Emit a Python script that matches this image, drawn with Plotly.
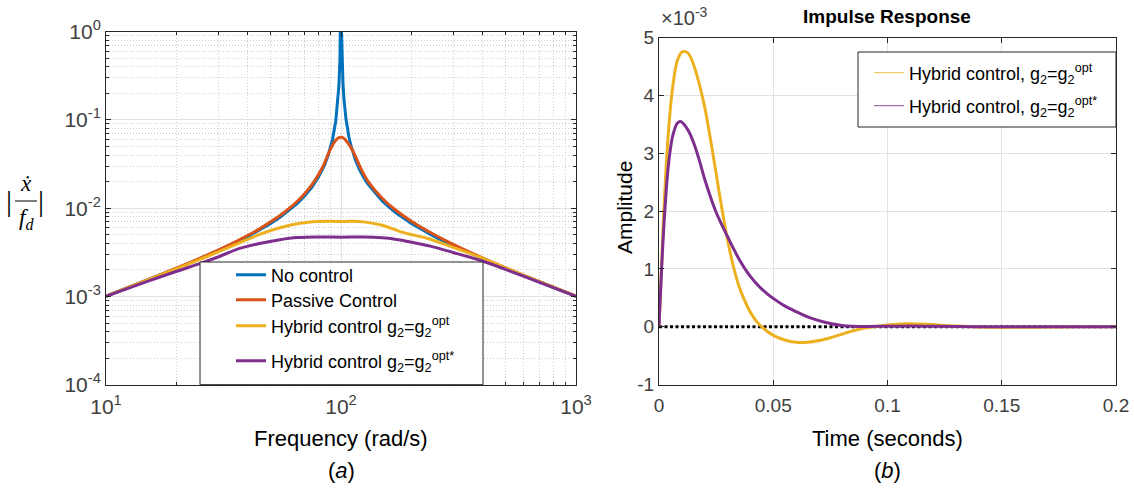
import plotly.graph_objects as go

W, H = 1134, 491

# ---------------- (a) frequency response |x_dot / f_d| ----------------
freq_none = [10, 15, 20, 25, 30, 35, 40, 45, 50, 55, 60, 65, 70, 75, 80, 85, 88, 90, 92, 95,
             97, 98, 99, 99.5, 100, 100.5, 101, 102, 103, 105, 108, 110, 115, 120, 125, 130,
             150, 170, 200, 250, 300, 400, 500, 700, 1000]
mag_none = [1.010e-3, 1.535e-3, 2.083e-3, 2.667e-3, 3.297e-3, 3.989e-3, 4.762e-3, 5.643e-3,
            6.667e-3, 7.885e-3, 9.375e-3, 1.126e-2, 1.373e-2, 1.714e-2, 2.222e-2, 3.063e-2,
            3.901e-2, 4.737e-2, 5.990e-2, 9.744e-2, 0.1641, 0.2475, 0.4975, 0.998, 5.0, 1.002,
            0.5025, 0.2525, 0.1691, 0.1024, 0.0649, 0.05238, 0.03566, 0.02727, 0.02222,
            0.01884, 0.0120, 8.995e-3, 6.667e-3, 4.762e-3, 3.750e-3, 2.667e-3, 2.083e-3,
            1.458e-3, 1.010e-3]

freq_passive = [10, 15, 20, 25, 30, 35, 40, 45, 50, 55, 60, 65, 70, 75, 80, 85, 88, 90, 92, 94,
                96, 98, 100, 102, 104, 106, 108, 110, 113, 116, 120, 125, 130, 150, 170, 200,
                250, 300, 400, 500, 700, 1000]
mag_passive = [1.010e-3, 1.54e-3, 2.10e-3, 2.70e-3, 3.36e-3, 4.08e-3, 4.90e-3, 5.83e-3, 6.96e-3,
               8.27e-3, 9.89e-3, 1.192e-2, 1.462e-2, 1.83e-2, 2.37e-2, 3.22e-2, 4.05e-2, 4.62e-2,
               5.18e-2, 5.70e-2, 6.08e-2, 6.32e-2, 6.37e-2, 6.28e-2, 6.02e-2, 5.66e-2, 5.30e-2,
               4.92e-2, 4.32e-2, 3.72e-2, 3.02e-2, 2.42e-2, 2.03e-2, 1.29e-2, 9.6e-3, 7.08e-3,
               5.0e-3, 3.90e-3, 2.74e-3, 2.12e-3, 1.47e-3, 1.010e-3]

freq_opt = [10, 15, 20, 25, 30, 37, 45, 55, 67, 80, 90, 100, 110, 125, 150, 180, 240, 300,
            400, 500, 700, 1000]
mag_opt = [1.0e-3, 1.53e-3, 2.07e-3, 2.62e-3, 3.2e-3, 4.05e-3, 5.05e-3, 6.0e-3, 6.75e-3,
           7.08e-3, 7.12e-3, 7.06e-3, 7.12e-3, 7.0e-3, 6.4e-3, 5.4e-3, 4.45e-3, 3.6e-3,
           2.72e-3, 2.11e-3, 1.46e-3, 1.01e-3]

freq_optstar = [10, 15, 20, 25, 30, 37, 45, 55, 65, 80, 100, 125, 150, 170, 200, 240, 300,
                400, 500, 700, 1000]
mag_optstar = [1.0e-3, 1.48e-3, 1.93e-3, 2.35e-3, 2.8e-3, 3.5e-3, 3.98e-3, 4.4e-3, 4.65e-3,
               4.72e-3, 4.70e-3, 4.72e-3, 4.62e-3, 4.45e-3, 4.12e-3, 3.72e-3, 3.15e-3,
               2.52e-3, 2.03e-3, 1.44e-3, 1.0e-3]

# ---------------- (b) impulse response (amplitude in units of 1e-3) ----------------
t_opt = [0, 0.002, 0.004, 0.006, 0.008, 0.010, 0.0114, 0.013, 0.015, 0.0175, 0.020, 0.0225,
         0.025, 0.0275, 0.030, 0.0325, 0.035, 0.0375, 0.040, 0.0425, 0.045, 0.050, 0.055,
         0.060, 0.065, 0.070, 0.075, 0.080, 0.085, 0.090, 0.094, 0.100, 0.108, 0.115, 0.122,
         0.130, 0.140, 0.150, 0.160, 0.170, 0.180, 0.200]
amp_opt = [0, 1.9, 3.3, 4.15, 4.6, 4.75, 4.76, 4.72, 4.55, 4.22, 3.8, 3.25, 2.65, 2.05, 1.5,
           1.05, 0.7, 0.45, 0.25, 0.1, -0.005, -0.15, -0.23, -0.27, -0.27, -0.24, -0.19,
           -0.13, -0.07, -0.025, 0.0, 0.03, 0.05, 0.045, 0.03, 0.01, -0.005, -0.012, -0.01,
           -0.006, -0.003, 0.0]

t_optstar = [0, 0.002, 0.004, 0.006, 0.008, 0.0095, 0.011, 0.013, 0.015, 0.0175, 0.020,
             0.0225, 0.025, 0.0275, 0.030, 0.0325, 0.035, 0.0375, 0.040, 0.0425, 0.045,
             0.0475, 0.050, 0.055, 0.060, 0.065, 0.070, 0.075, 0.080, 0.085, 0.090, 0.100,
             0.110, 0.120, 0.140, 0.160, 0.200]
amp_optstar = [0, 1.65, 2.75, 3.3, 3.52, 3.55, 3.5, 3.38, 3.2, 2.9, 2.55, 2.25, 1.98, 1.76,
               1.56, 1.36, 1.17, 1.01, 0.87, 0.75, 0.65, 0.565, 0.49, 0.36, 0.26, 0.17, 0.105,
               0.055, 0.022, 0.008, 0.003, 0.008, 0.01, 0.006, 0.0, -0.002, 0.0]

t_zero = [0, 0.2]
amp_zero = [0, 0]

# tick labels
freq_ticks = [10, 100, 1000]
freq_ticktext = ["10<sup>1</sup>", "10<sup>2</sup>", "10<sup>3</sup>"]
mag_ticks = [1e-4, 1e-3, 1e-2, 1e-1, 1]
mag_ticktext = ["10<sup>-4</sup>", "10<sup>-3</sup>", "10<sup>-2</sup>", "10<sup>-1</sup>", "10<sup>0</sup>"]
time_ticks = [0, 0.05, 0.1, 0.15, 0.2]
time_ticktext = ["0", "0.05", "0.1", "0.15", "0.2"]
amp_ticks = [-1, 0, 1, 2, 3, 4, 5]
amp_ticktext = ["-1", "0", "1", "2", "3", "4", "5"]

BLUE, ORANGE, YELLOW, PURPLE = "#0072BD", "#D95319", "#EDB120", "#7E2F8E"
AXC = "#262626"
TICKC = "#404040"
FONT = "Liberation Sans"
SERIF = "Liberation Serif"

G2_OPT = "g<sub>2</sub>=g<sub>2</sub><sup>opt</sup>"
G2_OPTS = "g<sub>2</sub>=g<sub>2</sub><sup>opt*</sup>"


def px(x):
    return x / W


def py(y):
    return 1 - y / H


fig = go.Figure()

# (a) each legend entry sits in its own legend box so rows can be placed freely
fig.add_trace(go.Scatter(x=freq_none, y=mag_none, mode="lines", name="No control",
                         line=dict(color=BLUE, width=3), xaxis="x", yaxis="y", legend="legend"))
fig.add_trace(go.Scatter(x=freq_passive, y=mag_passive, mode="lines", name="Passive Control",
                         line=dict(color=ORANGE, width=3, shape="spline", smoothing=0.6),
                         xaxis="x", yaxis="y", legend="legend2"))
fig.add_trace(go.Scatter(x=freq_opt, y=mag_opt, mode="lines", name="Hybrid control " + G2_OPT,
                         line=dict(color=YELLOW, width=3, shape="spline", smoothing=0.8),
                         xaxis="x", yaxis="y", legend="legend3"))
fig.add_trace(go.Scatter(x=freq_optstar, y=mag_optstar, mode="lines",
                         name="Hybrid control " + G2_OPTS,
                         line=dict(color=PURPLE, width=3, shape="spline", smoothing=0.8),
                         xaxis="x", yaxis="y", legend="legend4"))

# (b)
fig.add_trace(go.Scatter(x=t_zero, y=amp_zero, mode="lines", showlegend=False,
                         line=dict(color="black", width=3, dash="3px,2.5px"),
                         xaxis="x2", yaxis="y2"))
fig.add_trace(go.Scatter(x=t_opt, y=amp_opt, mode="lines", showlegend=False,
                         line=dict(color=YELLOW, width=3, shape="spline", smoothing=0.8),
                         xaxis="x2", yaxis="y2"))
fig.add_trace(go.Scatter(x=t_optstar, y=amp_optstar, mode="lines", showlegend=False,
                         line=dict(color=PURPLE, width=3, shape="spline", smoothing=0.8),
                         xaxis="x2", yaxis="y2"))
# thin legend keys for (b)
fig.add_trace(go.Scatter(x=[None], y=[None], mode="lines", name="Hybrid control, " + G2_OPT,
                         line=dict(color="#F2CD6E", width=1.3), xaxis="x2", yaxis="y2",
                         legend="legend5"))
fig.add_trace(go.Scatter(x=[None], y=[None], mode="lines", name="Hybrid control, " + G2_OPTS,
                         line=dict(color="#A86FB5", width=1.3), xaxis="x2", yaxis="y2",
                         legend="legend6"))

grid_major = "#e2e2e2"
grid_minor = "#cdcdcd"


def axis_style(tick_size):
    return dict(showline=True, linecolor=AXC, linewidth=1, mirror="allticks",
                ticks="inside", ticklen=5, tickcolor=AXC, showgrid=True,
                gridcolor=grid_major, gridwidth=1, zeroline=False,
                tickfont=dict(family=FONT, size=tick_size, color=TICKC), automargin=False,
                tickmode="array")


minor_freq = [20, 30, 40, 50, 60, 70, 80, 90, 200, 300, 400, 500, 600, 700, 800, 900]
minor_mag = [m * d for d in (1e-4, 1e-3, 1e-2, 1e-1) for m in range(2, 10)]
minor_style = dict(ticks="inside", ticklen=3, tickcolor=AXC, showgrid=True,
                   gridcolor=grid_minor, griddash="1px,2px", gridwidth=1)


def legend_at(x, y, size):
    return dict(x=px(x), y=py(y), xanchor="left", yanchor="middle",
                bgcolor="rgba(0,0,0,0)", borderwidth=0,
                font=dict(family=FONT, size=size, color="black"))


fig.update_layout(
    width=W, height=H, margin=dict(l=0, r=0, t=0, b=0),
    paper_bgcolor="white", plot_bgcolor="white",
    font=dict(family=FONT, color="black"),
    xaxis=dict(axis_style(21), type="log", range=[1, 3], domain=[px(106), px(576)], anchor="y",
               tickvals=freq_ticks, ticktext=freq_ticktext, ticklabelstandoff=3,
               minor=dict(minor_style, tickvals=minor_freq)),
    yaxis=dict(axis_style(21), type="log", range=[-4, 0], domain=[py(384.7), py(31.7)], anchor="x",
               tickvals=mag_ticks, ticktext=mag_ticktext,
               minor=dict(minor_style, tickvals=minor_mag)),
    xaxis2=dict(axis_style(19), range=[0, 0.2], domain=[px(659), px(1116)], anchor="y2",
                tickvals=time_ticks, ticktext=time_ticktext, ticklabelstandoff=4),
    yaxis2=dict(axis_style(19), range=[-1, 5], domain=[py(384.5), py(37.7)], anchor="x2",
                tickvals=amp_ticks, ticktext=amp_ticktext),
    legend=legend_at(231, 275, 18),
    legend2=legend_at(231, 300, 18),
    legend3=legend_at(231, 326, 18),
    legend4=legend_at(231, 361, 18),
    legend5=legend_at(869, 73, 18),
    legend6=legend_at(869, 106, 18),
    showlegend=True,
)

# legend frames
fig.add_shape(type="rect", xref="paper", yref="paper", x0=px(200), x1=px(483),
              y0=py(384.7), y1=py(262), fillcolor="white", line=dict(color=AXC, width=1),
              layer="above")
fig.add_shape(type="rect", xref="paper", yref="paper", x0=px(858), x1=px(1116),
              y0=py(127), y1=py(52), fillcolor="white", line=dict(color=AXC, width=1),
              layer="above")

annotations = [
    dict(text="Frequency (rad/s)", x=px(341), y=py(438), font=dict(size=22)),
    dict(text="(<i>a</i>)", x=px(341), y=py(470), font=dict(size=22)),
    dict(text="Time (seconds)", x=px(887), y=py(438), font=dict(size=22)),
    dict(text="(<i>b</i>)", x=px(887), y=py(470), font=dict(size=22)),
    dict(text="<b>Impulse Response</b>", x=px(887), y=py(17), font=dict(size=19)),
    dict(text="Amplitude", x=px(624), y=py(208), textangle=-90, font=dict(size=21)),
    dict(text="×10<sup>-3</sup>", x=px(659), y=py(17), xanchor="left",
         font=dict(size=20, color=TICKC)),
    # |x_dot / f_d|
    dict(text="|", x=px(9), y=py(201), font=dict(family=SERIF, size=30)),
    dict(text="|", x=px(41), y=py(201), font=dict(family=SERIF, size=30)),
    dict(text="<i>ẋ</i>", x=px(26), y=py(184), font=dict(family=SERIF, size=23)),
    dict(text="<i>f<sub>d</sub></i>", x=px(26), y=py(219), font=dict(family=SERIF, size=23)),
]
for a in annotations:
    a.setdefault("xanchor", "center")
    fig.add_annotation(xref="paper", yref="paper", showarrow=False, yanchor="middle",
                       **a)

fig.add_shape(type="line", xref="paper", yref="paper", x0=px(15), x1=px(37),
              y0=py(201), y1=py(201), line=dict(color="black", width=1))

fig.write_html("out.html")
